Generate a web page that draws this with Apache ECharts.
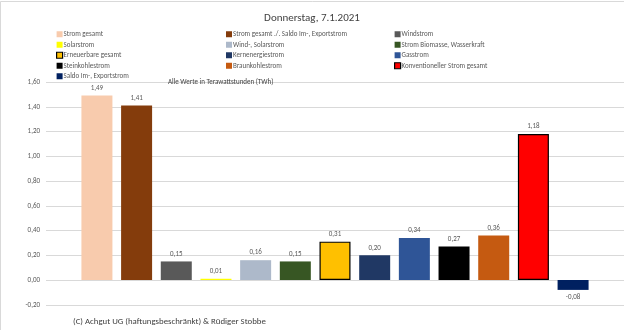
<!DOCTYPE html>
<html>
<head>
<meta charset="utf-8">
<script src="https://cdn.jsdelivr.net/npm/echarts@6/dist/echarts.min.js"></script>
<style>
html,body{margin:0;padding:0;background:#fff;}
#c{width:624px;height:330px;}
</style>
</head>
<body>
<div id="c"></div>
<script>
var seriesNames = [
  'Strom gesamt',
  'Strom gesamt ./. Saldo Im-, Exportstrom',
  'Windstrom',
  'Solarstrom',
  'Wind-, Solarstrom',
  'Strom Biomasse, Wasserkraft',
  'Erneuerbare gesamt',
  'Kernenergiestrom',
  'Gasstrom',
  'Steinkohlestrom',
  'Braunkohlestrom',
  'Konventioneller Strom gesamt',
  'Saldo Im-, Exportstrom'
];
var values = [1.49, 1.41, 0.15, 0.01, 0.16, 0.15, 0.31, 0.20, 0.34, 0.27, 0.36, 1.18, -0.08];
var colors = ['#F8CBAD', '#843C0C', '#595959', '#FFFF00', '#ADB9CA', '#375623', '#FFC000', '#203864', '#2F5597', '#000000', '#C55A11', '#FF0000', '#002060'];
var outlined = [false, false, false, false, false, false, true, false, false, false, false, true, false];
var yTicks = [-0.2, 0, 0.2, 0.4, 0.6, 0.8, 1.0, 1.2, 1.4, 1.6];

var FONT = 'Carlito, Calibri, "Liberation Sans", Arial, sans-serif';
function fmt(v){ return v.toFixed(2).replace('.', ','); }

var series = seriesNames.map(function(n, i){
  return {
    name: n,
    type: 'bar',
    data: [values[i]],
    barWidth: 31,
    barGap: '28%',
    itemStyle: {
      color: colors[i],
      borderColor: outlined[i] ? '#000000' : colors[i],
      borderWidth: outlined[i] ? 1.2 : 0
    },
    label: {
      show: true,
      position: values[i] < 0 ? 'bottom' : 'top',
      distance: 4,
      formatter: function(p){ return fmt(p.value); },
      color: '#595959',
      fontSize: 7,
      fontFamily: FONT
    }
  };
});

function legendCol(idx, left){
  return {
    orient: 'vertical',
    left: left,
    top: 29,
    itemWidth: 6,
    itemHeight: 6,
    itemGap: 0,
    padding: 0,
    icon: 'rect',
    data: idx.map(function(i){
      return {
        name: seriesNames[i],
        itemStyle: outlined[i]
          ? { color: colors[i], borderColor: '#000000', borderWidth: 1.2 }
          : { color: colors[i], borderWidth: 0 }
      };
    }),
    textStyle: { fontSize: 7, color: '#595959', fontFamily: FONT, lineHeight: 10.5, padding: [0,0,0,-4] },
    selectedMode: false
  };
}

var chart = echarts.init(document.getElementById('c'), null, {renderer: 'canvas'});
chart.setOption({
  animation: false,
  backgroundColor: '#ffffff',
  title: [
    { text: 'Donnerstag, 7.1.2021', left: 'center', top: 8, textStyle: { fontSize: 11, fontWeight: 'normal', color: '#404040', fontFamily: FONT } },
    { text: 'Alle Werte in Terawattstunden (TWh)', left: 163, top: 74, textStyle: { fontSize: 7, fontWeight: 'normal', color: '#404040', fontFamily: FONT } },
    { text: '(C) Achgut UG (haftungsbeschränkt) & Rüdiger Stobbe', left: 68, top: 312, textStyle: { fontSize: 8.8, fontWeight: 'normal', color: '#404040', fontFamily: FONT } }
  ],
  graphic: [
    { type: 'rect', shape: { x: 0.5, y: 1.5, width: 700, height: 400 }, style: { fill: 'none', stroke: '#D9D9D9', lineWidth: 1 }, silent: true }
  ],
  legend: [
    legendCol([0,3,6,9,12], 56),
    legendCol([1,4,7,10], 226),
    legendCol([2,5,8,11], 394)
  ],
  grid: { left: 46, right: 0, top: 82, bottom: 25.25 },
  xAxis: {
    type: 'category',
    data: [''],
    axisLine: { show: false },
    axisTick: { show: false },
    axisLabel: { show: false }
  },
  yAxis: {
    type: 'value',
    min: yTicks[0],
    max: yTicks[yTicks.length - 1],
    interval: 0.2,
    axisLine: { show: false },
    axisTick: { show: false },
    axisLabel: { formatter: function(v){ return fmt(v); }, color: '#595959', fontSize: 7, fontFamily: FONT, margin: 6 },
    splitLine: { lineStyle: { color: '#D9D9D9', width: 1 } }
  },
  series: series
});
</script>
</body>
</html>
